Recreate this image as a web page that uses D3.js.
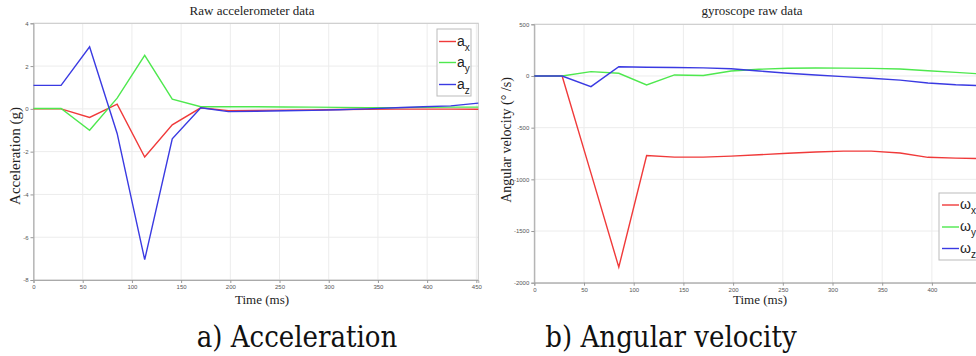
<!DOCTYPE html>
<html>
<head>
<meta charset="utf-8" />
<title>accelerometer and gyroscope</title>
<style>
  body { margin: 0; background: #fff; }
  .tick text { font-family: Arial, "Liberation Sans", sans-serif; font-size: 6px; fill: #555; }
  .tick line { stroke: #999; }
  .domain { stroke: #aaa; }
  .grid line { stroke: #ececec; }
  .ttl, .lbl { font-family: "Liberation Serif", "Times New Roman", serif; fill: #222; }
  .leg { font-family: Arial, "Liberation Sans", sans-serif; fill: #222; }
  .cap { font-family: "DejaVu Serif Condensed", "DejaVu Serif", serif; font-stretch: condensed; fill: #111; }
</style>
</head>
<body>
<script src="https://d3js.org/d3.v7.min.js"></script>
<script>
// time stamps (ms), same for both sensors
var times = [0, 28, 57, 85, 113, 141, 170, 198, 226, 255, 283, 311, 339, 368, 396, 424, 452];

// accelerometer (g)
var ax = [0, 0, -0.4, 0.22, -2.25, -0.75, 0.05, -0.08, -0.07, -0.06, -0.05, -0.03, -0.02, -0.01, -0.01, -0.01, -0.02];
var ay = [0.02, 0.02, -1.0, 0.5, 2.5, 0.45, 0.1, 0.1, 0.1, 0.09, 0.08, 0.07, 0.06, 0.06, 0.07, 0.08, 0.08];
var az = [1.1, 1.1, 2.9, -1.15, -7.05, -1.4, 0.05, -0.13, -0.11, -0.09, -0.07, -0.04, 0, 0.05, 0.1, 0.14, 0.27];

// gyroscope (deg/s)
var gx = [0, 0, -940, -1850, -770, -785, -785, -775, -762, -748, -735, -727, -727, -745, -787, -795, -800];
var gy = [0, 0, 42, 26, -87, 10, 5, 48, 65, 75, 77, 76, 74, 68, 50, 35, 18];
var gz = [0, 0, -103, 90, 85, 82, 78, 70, 48, 26, 10, -6, -22, -40, -68, -85, -95];

var accXTicks = [0, 50, 100, 150, 200, 250, 300, 350, 400, 450];
var gyrXTicks = [0, 50, 100, 150, 200, 250, 300, 350, 400];
var accTicks = [-8, -6, -4, -2, 0, 2, 4];
var gyrTicks = [-2000, -1500, -1000, -500, 0, 500];

var colors = ["#f03a3a", "#4ee84e", "#3a3ae2"];

var svg = d3.select("body").append("svg")
    .attr("width", 976)
    .attr("height", 356);

svg.append("rect").attr("width", 976).attr("height", 356).attr("fill", "#fff");

function panel(cfg) {
  var x = d3.scaleLinear().domain(cfg.xdom).range(cfg.xr);
  var y = d3.scaleLinear().domain(cfg.ydom).range(cfg.yr);
  var g = svg.append("g");

  // grid
  var grid = g.append("g").attr("class", "grid");
  grid.selectAll(".gx").data(cfg.xticks).enter().append("line")
      .attr("x1", d => x(d)).attr("x2", d => x(d))
      .attr("y1", cfg.yr[0]).attr("y2", cfg.yr[1]);
  grid.selectAll(".gy").data(cfg.yticks).enter().append("line")
      .attr("x1", cfg.xr[0]).attr("x2", cfg.xr[1])
      .attr("y1", d => y(d)).attr("y2", d => y(d));

  // frame
  g.append("rect")
      .attr("x", cfg.xr[0]).attr("y", cfg.yr[1])
      .attr("width", cfg.xr[1] - cfg.xr[0]).attr("height", cfg.yr[0] - cfg.yr[1])
      .attr("fill", "none").attr("stroke", "#c8c8c8");

  var fmt = d => String(d);
  g.append("g").attr("transform", "translate(0," + cfg.yr[0] + ")")
      .call(d3.axisBottom(x).tickValues(cfg.xticks).tickFormat(fmt).tickSize(3).tickPadding(2));
  g.append("g").attr("transform", "translate(" + cfg.xr[0] + ",0)")
      .call(d3.axisLeft(y).tickValues(cfg.yticks).tickFormat(fmt).tickSize(3).tickPadding(2));

  var line = d3.line().x((d, i) => x(times[i])).y(d => y(d));
  cfg.series.forEach(function (s, i) {
    g.append("path").datum(s)
        .attr("d", line)
        .attr("fill", "none")
        .attr("stroke", colors[i])
        .attr("stroke-width", 1.4);
  });

  g.append("text").attr("class", "ttl")
      .attr("x", cfg.titleX).attr("y", 15)
      .attr("text-anchor", "middle").attr("font-size", 13)
      .text(cfg.title);
  g.append("text").attr("class", "lbl")
      .attr("x", cfg.xlabX).attr("y", 304)
      .attr("text-anchor", "middle").attr("font-size", 13)
      .text("Time (ms)");
  g.append("text").attr("class", "lbl")
      .attr("transform", "translate(" + cfg.ylab[0] + "," + cfg.ylab[1] + ") rotate(-90)")
      .attr("text-anchor", "middle").attr("font-size", cfg.ylabSize)
      .text(cfg.ylabel);

  // legend
  var L = cfg.legend;
  g.append("rect").attr("x", L.x).attr("y", L.y).attr("width", L.w).attr("height", L.h)
      .attr("fill", "#fff").attr("stroke", "#bbb");
  L.rows.forEach(function (ry, i) {
    g.append("line").attr("x1", L.lx).attr("x2", L.lx + 17)
        .attr("y1", ry).attr("y2", ry)
        .attr("stroke", colors[i]).attr("stroke-width", 1.4);
    var t = g.append("text").attr("class", "leg")
        .attr("x", L.lx + 18).attr("y", ry + 4).attr("font-size", 14);
    t.append("tspan").text(L.sym);
    t.append("tspan").attr("dy", 5).attr("font-size", 10).text(["x", "y", "z"][i]);
  });
}

panel({
  xdom: [0, 452], xr: [33.5, 478.3], xticks: accXTicks,
  ydom: [-8, 4], yr: [280, 23.3], yticks: accTicks,
  series: [ax, ay, az],
  title: "Raw accelerometer data", titleX: 252,
  xlabX: 262,
  ylabel: "Acceleration (g)", ylab: [20, 156], ylabSize: 15,
  legend: { x: 437, y: 29, w: 34, h: 67, lx: 439, sym: "a", rows: [41.5, 62.5, 84.5] }
});

panel({
  xdom: [0, 450], xr: [534.3, 981.6], xticks: gyrXTicks,
  ydom: [-2000, 500], yr: [282.7, 24.3], yticks: gyrTicks,
  series: [gx, gy, gz],
  title: "gyroscope raw data", titleX: 752,
  xlabX: 760,
  ylabel: "Angular velocity (\u00b0  /s)", ylab: [511, 140], ylabSize: 14,
  legend: { x: 939, y: 193, w: 50, h: 67, lx: 942, sym: "\u03c9", rows: [205, 227, 248.5] }
});

svg.append("text").attr("class", "cap")
    .attr("x", 297).attr("y", 347).attr("text-anchor", "middle").attr("font-size", 29)
    .text("a) Acceleration");
svg.append("text").attr("class", "cap")
    .attr("x", 671).attr("y", 347).attr("text-anchor", "middle").attr("font-size", 29)
    .text("b) Angular velocity");
</script>
</body>
</html>
